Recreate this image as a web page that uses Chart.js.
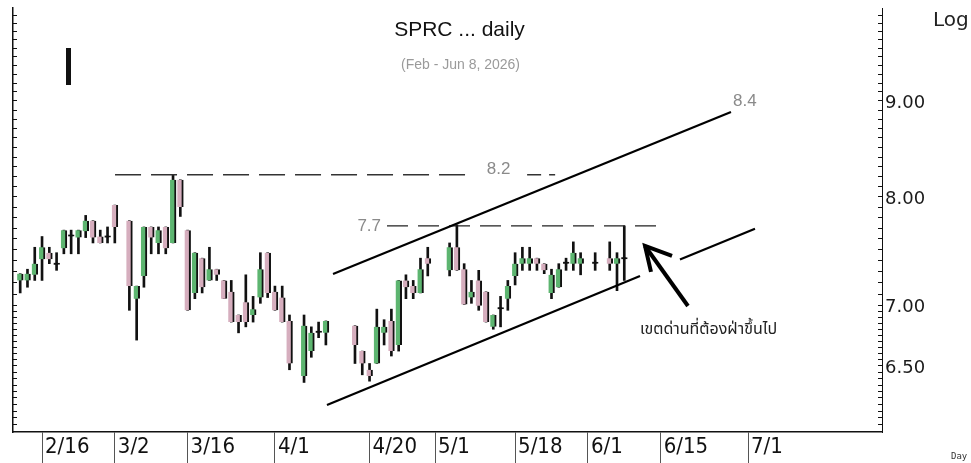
<!DOCTYPE html>
<html><head><meta charset="utf-8">
<script src="https://cdn.jsdelivr.net/npm/chart.js@4.4.1/dist/chart.umd.min.js"></script>
<style>html,body{margin:0;padding:0;background:#fff;overflow:hidden}</style>
</head><body>
<canvas id="c" width="971" height="463"></canvas>
<script>
// ---------- DATA ----------
const dates = [
 '2026-02-11','2026-02-12','2026-02-13','2026-02-16','2026-02-17','2026-02-18','2026-02-19','2026-02-20','2026-02-23','2026-02-24','2026-02-25','2026-02-26','2026-02-27','2026-03-02',
 '2026-03-04','2026-03-05','2026-03-06','2026-03-09','2026-03-10','2026-03-11','2026-03-12','2026-03-13','2026-03-16','2026-03-17','2026-03-18','2026-03-19','2026-03-20','2026-03-23','2026-03-24','2026-03-25','2026-03-26','2026-03-27','2026-03-30','2026-03-31','2026-04-01','2026-04-02','2026-04-03',
 '2026-04-07','2026-04-08','2026-04-09','2026-04-10',
 '2026-04-16','2026-04-17','2026-04-20','2026-04-21','2026-04-22','2026-04-23','2026-04-24','2026-04-27','2026-04-28','2026-04-29','2026-04-30',
 '2026-05-05','2026-05-06','2026-05-07','2026-05-08','2026-05-11','2026-05-12','2026-05-13','2026-05-14','2026-05-15','2026-05-18','2026-05-19','2026-05-20','2026-05-21','2026-05-22','2026-05-25','2026-05-26','2026-05-27','2026-05-28','2026-05-29',
 '2026-06-02','2026-06-04','2026-06-05','2026-06-08'
];
const opens = [
 7.22,7.22,7.27,7.41,7.47,7.36,7.51,7.62,7.61,7.67,7.77,7.62,7.61,7.92,
 7.77,7.06,7.26,7.71,7.56,7.71,7.56,8.17,7.68,7.11,7.42,7.22,7.32,7.22,7.12,6.92,7.03,6.92,7.07,7.47,7.12,7.07,6.87,
 6.42,6.62,6.77,6.77,
 6.83,6.62,6.47,6.52,6.77,6.87,6.67,7.22,7.17,7.11,7.42,
 7.31,7.52,7.32,7.07,7.22,7.12,6.82,6.97,7.06,7.26,7.37,7.37,7.42,7.37,7.11,7.16,7.37,7.37,7.37,
 7.37,7.42,7.37,7.41
];
const highs = [
 7.28,7.32,7.52,7.62,7.52,7.47,7.68,7.68,7.68,7.82,7.77,7.68,7.71,7.92,
 7.77,7.17,7.71,7.71,7.71,7.71,8.22,8.17,7.68,7.47,7.42,7.52,7.32,7.22,7.22,6.92,7.27,7.08,7.47,7.47,7.17,7.17,6.92,
 6.92,6.82,6.86,6.87,
 6.83,6.62,6.52,6.97,6.88,6.97,7.22,7.27,7.22,7.42,7.52,
 7.56,7.73,7.37,7.22,7.31,7.12,6.92,7.08,7.22,7.47,7.52,7.52,7.42,7.37,7.32,7.37,7.42,7.57,7.47,
 7.47,7.57,7.47,7.72
];
const lows = [
 7.11,7.16,7.22,7.22,7.37,7.31,7.46,7.46,7.46,7.61,7.56,7.56,7.56,7.56,
 6.96,6.71,7.16,7.46,7.46,7.46,7.56,7.81,6.96,7.06,7.11,7.22,7.22,7.06,6.86,6.77,6.82,6.86,7.02,7.07,6.96,6.86,6.47,
 6.37,6.57,6.73,6.67,
 6.52,6.43,6.38,6.52,6.67,6.58,6.62,7.06,7.06,7.11,7.26,
 7.26,7.31,7.01,7.02,6.96,6.86,6.80,6.82,6.96,7.18,7.31,7.31,7.31,7.28,7.06,7.16,7.31,7.31,7.27,
 7.31,7.31,7.13,7.22
];
const closes = [
 7.28,7.28,7.37,7.52,7.41,7.36,7.68,7.62,7.68,7.77,7.61,7.56,7.61,7.71,
 7.17,7.17,7.71,7.61,7.68,7.51,8.17,7.90,6.96,7.47,7.16,7.32,7.27,7.06,6.86,6.86,6.86,6.97,7.32,7.11,6.96,6.86,6.52,
 6.83,6.77,6.77,6.87,
 6.67,6.52,6.42,6.82,6.82,6.62,7.22,7.16,7.11,7.32,7.37,
 7.52,7.31,7.01,7.12,7.00,6.86,6.92,6.97,7.17,7.37,7.42,7.42,7.37,7.31,7.27,7.32,7.37,7.47,7.42,
 7.37,7.37,7.42,7.41
];
const xTickDates  = ['2026-02-16','2026-03-02','2026-03-16','2026-04-01','2026-04-20','2026-05-01','2026-05-18','2026-06-01','2026-06-15','2026-07-01'];
const xTickLabels = ['2/16','3/2','3/16','4/1','4/20','5/1','5/18','6/1','6/15','7/1'];
const yTickLabelValues = [6.5, 7, 8, 9];

// hand-drawn annotations (x = weekday index from first bar, y = price)
const upperChannel  = [{x:42.98,y:7.277},{x:97.66,y:8.879}];
const lowerChannelA = [{x:42.15,y:6.196},{x:85.16,y:7.259}];
const lowerChannelB = [{x:90.65,y:7.407},{x:100.96,y:7.694}];
const level82A = [{x:13.03,y:8.22},{x:61.8,y:8.22}];
const level82B = [{x:69.65,y:8.22},{x:73.5,y:8.22}];
const level77  = [{x:50.4,y:7.72},{x:88.6,y:7.72}];
const arrowShaft = [{x:91.75,y:6.997},{x:85.85,y:7.532}];
const arrowHead  = [{x:86.67,y:7.296},{x:85.85,y:7.532},{x:89.56,y:7.44}];

const titleText = 'SPRC ... daily';
const subtitleText = '(Feb - Jun 8, 2026)';
const noteText = 'เขตด่านที่ต้องฝ่าขึ้นไป';

// ---------- helpers ----------
const baseT = Date.UTC(2026,1,11);
function wIdx(s){
  const p = s.split('-').map(Number);
  const t = Date.UTC(p[0],p[1]-1,p[2]);
  let n = 0;
  for (let u = baseT; u < t; u += 864e5){ const wd = new Date(u).getUTCDay(); if (wd!==0 && wd!==6) n++; }
  return n;
}
const xVals = dates.map(wIdx);
const bodyData = dates.map((d,i)=>({x:xVals[i], y:[opens[i], closes[i]]}));
const wickData = dates.map((d,i)=>({x:xVals[i], y:[lows[i], highs[i]]}));
const UP='#5db570', DOWN='#d6aebe', FLAT='#111';
function candleColor(ctx){ const i=ctx.dataIndex; const o=opens[i], c=closes[i]; return c>o?UP:(c<o?DOWN:FLAT); }

const yTicks = [];
for (let k=0;k<=20;k++) yTicks.push(+(6.0+k*0.05).toFixed(2));
for (let k=1;k<=30;k++) yTicks.push(+(7.0+k*0.1).toFixed(2));
const setYTicks = s => { s.ticks = yTicks.map(v=>({value:v})); };
const noPad = s => { s.paddingTop = 0; s.paddingBottom = 0; s.paddingLeft = 0; s.paddingRight = 0; };

const xMin=-0.989, xMax=118.41, yMin=5.994, yMax=10.088;

function lineDs(data, extra){ return Object.assign({type:'line', data, borderColor:'#000', borderWidth:2.2, pointRadius:0, tension:0, fill:false, yAxisID:'y', xAxisID:'x', order:0}, extra||{}); }

const annot = {
  id:'annot',
  afterDraw(chart){
    const c = chart.ctx, xs = chart.scales.x, ys = chart.scales.y;
    c.save();
    c.textBaseline='middle';
    c.fillStyle='#111'; c.font='21px "Liberation Sans", Arial, sans-serif'; c.textAlign='center';
    c.fillText(titleText, 459.5, 30.5);
    c.fillStyle='#9a9a9a'; c.font='14px "Liberation Sans", Arial, sans-serif';
    c.fillText(subtitleText, 460.5, 65);
    c.fillStyle='#222'; c.font='20px "DejaVu Sans", sans-serif'; c.textAlign='left';
    c.fillText('Log', 933, 21);
    c.font='9px "DejaVu Sans Mono", monospace'; c.fillStyle='#333';
    c.fillText('Day', 951, 457);
    c.fillStyle='#111'; c.fillRect(66,48,5,37);
    c.fillStyle='#8a8a8a'; c.font='17px "Liberation Sans", Arial, sans-serif';
    c.textAlign='right';
    c.fillText('7.7', xs.getPixelForValue(level77[0].x)-6, ys.getPixelForValue(level77[0].y));
    c.textAlign='center';
    c.fillText('8.2', (xs.getPixelForValue(level82A[1].x)+xs.getPixelForValue(level82B[0].x))/2, ys.getPixelForValue(level82A[0].y)-5);
    c.textAlign='left';
    c.fillText('8.4', xs.getPixelForValue(upperChannel[1].x)+2, ys.getPixelForValue(upperChannel[1].y)-11);
    c.fillStyle='#222'; c.font='16px "Noto Sans Thai", Tahoma, "Noto Sans", sans-serif';
    c.fillText(noteText, 640, 331);
    c.restore();
  }
};

new Chart(document.getElementById('c'), {
  type:'bar',
  data:{ datasets:[
    lineDs(upperChannel),
    lineDs(lowerChannelA),
    lineDs(lowerChannelB),
    lineDs(level82A,{borderDash:[26,10], borderWidth:1.4, borderColor:'#333'}),
    lineDs(level82B,{borderDash:[14,8], borderWidth:1.4, borderColor:'#333'}),
    lineDs(level77,{borderDash:[21,10], borderWidth:1.4, borderColor:'#222'}),
    lineDs(arrowShaft,{borderWidth:4}),
    lineDs(arrowHead,{borderWidth:4, borderJoinStyle:'miter'}),
    {type:'bar', label:'body', data: bodyData, backgroundColor: candleColor, borderColor:'#111',
     borderWidth:{top:0,right:2,bottom:0,left:0}, borderSkipped:false, barThickness:6, barPercentage:1, categoryPercentage:1,
     minBarLength:2, grouped:false, order:1, yAxisID:'y', xAxisID:'x'},
    {type:'bar', label:'wick', data: wickData, backgroundColor:'#111', barThickness:2, barPercentage:1, categoryPercentage:1,
     grouped:false, order:2, yAxisID:'y', xAxisID:'x'}
  ]},
  options:{
    responsive:false, animation:false,
    layout:{padding:{top:8,left:0,right:0,bottom:0}},
    plugins:{legend:{display:false}, tooltip:{enabled:false}, title:{display:false}},
    scales:{
      x:{type:'linear', min:xMin, max:xMax, offset:false,
         grid:{offset:false, drawOnChartArea:false, drawTicks:true, tickLength:31, color:'#555', lineWidth:1},
         border:{display:true, color:'#111', width:1.5},
         ticks:{autoSkip:false, maxRotation:0, minRotation:0, align:'start', labelOffset:3, padding:-29,
                font:{family:'"DejaVu Sans Condensed", "Liberation Sans Narrow", "Roboto Condensed", "DejaVu Sans", sans-serif', size:22},
                color:'#111', callback:(v,i)=>xTickLabels[i]},
         afterBuildTicks: s=>{ s.ticks = xTickDates.map(d=>({value:wIdx(d)})); },
         afterFit: s=>{ s.height = 31; noPad(s); }},
      y:{type:'logarithmic', position:'right', min:yMin, max:yMax,
         grid:{drawOnChartArea:false, drawTicks:true, tickLength:-4, color:'#111'},
         border:{display:true, color:'#111', width:1},
         ticks:{autoSkip:false, padding:7, labelOffset:2, color:'#1a1a1a', font:{family:'"DejaVu Sans", sans-serif', size:18},
                callback:v=> yTickLabelValues.some(t=>Math.abs(t-v)<1e-6) ? Number(v).toFixed(2) : ''},
         afterBuildTicks: setYTicks,
         afterFit: s=>{ s.width = 89; noPad(s); }},
      yL:{type:'logarithmic', position:'left', min:yMin, max:yMax,
         grid:{drawOnChartArea:false, drawTicks:true, tickLength:-4, color:'#111'},
         border:{display:true, color:'#111', width:1.5},
         ticks:{autoSkip:false, padding:0, callback:()=>''},
         afterBuildTicks: setYTicks,
         afterFit: s=>{ s.width = 13; noPad(s); }}
    }
  },
  plugins:[annot]
});
</script>
</body></html>
